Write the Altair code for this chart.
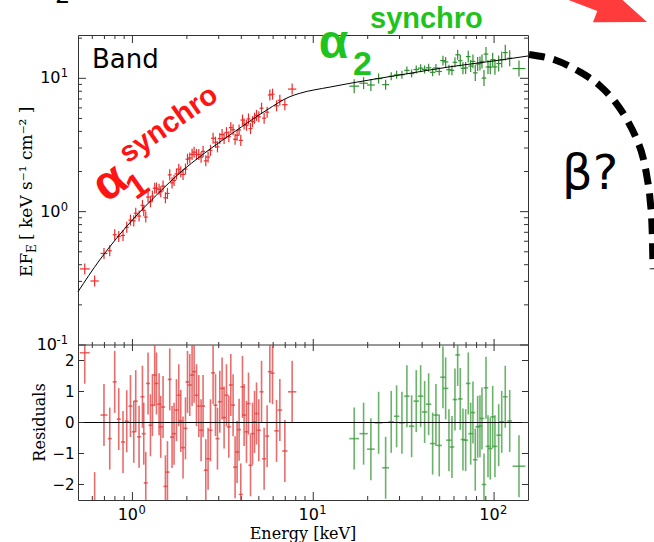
import altair as alt
import pandas as pd

# ---------------- data ----------------
red_E = [0.545, 0.618, 0.696, 0.749, 0.798, 0.840, 0.887, 0.930, 0.975, 1.017,
         1.043, 1.088, 1.136, 1.155, 1.185, 1.220, 1.258, 1.290, 1.328, 1.358,
         1.404, 1.434, 1.477, 1.522, 1.562, 1.608, 1.656, 1.699, 1.752, 1.804,
         1.851, 1.905, 1.965, 2.016, 2.075, 2.137, 2.193, 2.261, 2.328, 2.397,
         2.459, 2.545, 2.620, 2.702, 2.793, 2.880, 2.953, 3.042, 3.132, 3.213,
         3.312, 3.412, 3.499, 3.603, 3.696, 3.791, 3.889, 3.974, 4.061, 4.145,
         4.273, 4.384, 4.498, 4.614, 4.733, 4.856, 5.000, 5.176, 5.349, 5.557,
         5.753, 5.954, 6.266, 6.534, 6.965, 7.642]
red_F = [0.372, 0.302, 0.486, 0.509, 0.671, 0.651, 0.663, 0.763, 0.864, 0.853,
         0.973, 0.927, 1.115, 1.019, 0.911, 1.287, 1.185, 1.307, 1.496, 1.503,
         1.470, 1.410, 1.556, 1.271, 1.369, 1.887, 1.644, 1.714, 1.917, 2.083,
         1.988, 1.900, 2.086, 2.472, 2.527, 2.689, 2.793, 2.685, 2.680, 2.562,
         2.832, 2.404, 2.567, 2.881, 3.550, 3.313, 3.061, 3.532, 3.784, 3.545,
         3.911, 3.650, 4.264, 4.119, 3.490, 3.739, 4.097, 3.424, 4.861, 4.536,
         4.443, 4.955, 4.198, 4.728, 5.023, 5.272, 5.145, 5.969, 5.023, 5.572,
         7.50, 7.60, 6.211, 6.841, 6.341, 8.30]
red_R = [2.25, -2.6, 0.24, -0.52, 1.31, 0.11, -0.63, 0.04, 0.53, -0.30,
         0.69, -0.46, 0.83, -0.36, -1.95, 1.26, -0.09, 0.56, 1.53, 1.26,
         0.59, -0.14, 0.50, -2.06, -1.60, 1.39, -0.47, -0.36, 0.40, 0.88,
         0.05, -0.81, -0.19, 1.31, 1.21, 1.53, 1.64, 0.88, 0.53, -0.25,
         0.53, -1.54, -1.17, -0.25, 1.60, 0.56, -0.52, 0.67, 1.10, 0.16,
         0.88, -0.14, 1.21, 0.56, -1.44, -0.95, -0.23, -2.32, 1.15, 0.24,
         -0.30, 0.61, -1.38, -0.36, 0.02, 0.29, -0.25, 0.99, -1.17, -0.44,
         1.64, 1.59, -0.27, 0.40, -0.92, 0.99]
# energy-bin half width (multiplicative, log axis) and flux error factor
red_xerr = [1.065, 1.055, 1.045, 1.026, 1.026, 1.026, 1.026, 1.026, 1.026, 1.026,
            1.026, 1.026, 1.026, 1.026, 1.026, 1.026, 1.026, 1.026, 1.026, 1.026,
            1.026, 1.026, 1.026, 1.026, 1.026, 1.026, 1.026, 1.026, 1.026, 1.026,
            1.026, 1.026, 1.026, 1.026, 1.026, 1.026, 1.026, 1.026, 1.026, 1.026,
            1.026, 1.026, 1.026, 1.026, 1.026, 1.026, 1.026, 1.026, 1.026, 1.026,
            1.026, 1.026, 1.026, 1.026, 1.026, 1.026, 1.026, 1.026, 1.026, 1.026,
            1.026, 1.026, 1.026, 1.026, 1.026, 1.026, 1.026, 1.026, 1.026, 1.026,
            1.026, 1.026, 1.030, 1.030, 1.035, 1.055]
red_yerr = 1.10

green_E = [16.84, 18.98, 20.83, 22.98, 25.13, 26.98, 28.90, 30.93, 32.95, 34.99,
           37.11, 39.25, 41.30, 43.45, 45.73, 47.69, 49.74, 52.14, 53.96, 56.28,
           58.48, 60.76, 62.88, 65.00, 67.27, 69.63, 71.97, 74.21, 76.41, 78.68,
           81.12, 83.53, 85.70, 87.92, 90.19, 92.52, 95.26, 98.22, 101.1, 106.0,
           110.2, 115.3, 122.0, 137.3]
green_F = [8.73, 9.19, 8.91, 9.95, 8.96, 10.35, 10.62, 10.64, 11.47, 10.85,
           11.64, 11.91, 11.64, 11.99, 11.09, 11.95, 11.25, 13.57, 13.27, 11.60,
           11.47, 13.18, 15.01, 13.55, 11.89, 11.95, 14.54, 12.35, 13.39, 10.98,
           12.80, 12.91, 13.37, 10.04, 15.19, 12.16, 12.12, 13.79, 12.18, 12.91,
           13.81, 15.58, 14.15, 11.83]
green_R = [-0.52, -0.36, -0.86, -0.01, -1.46, 0.02, 0.20, -0.01, 0.85, -0.12,
           0.69, 0.85, 0.34, 0.59, -0.68, 0.24, -0.74, 1.46, 1.10, -0.57,
           -0.79, 0.74, 2.18, 0.76, -0.55, -0.57, 1.26, -0.36, 0.32, -1.20,
           -0.14, -0.12, 0.13, -2.00, 1.12, -0.77, -0.84, 0.18, -0.77, -0.41,
           0.02, 0.83, 0.05, -1.41]
green_xerr = [1.065, 1.055, 1.050, 1.050, 1.045, 1.035, 1.035, 1.035, 1.035, 1.035,
              1.035, 1.035, 1.035, 1.035, 1.035, 1.035, 1.035, 1.035, 1.035, 1.035,
              1.030, 1.030, 1.030, 1.030, 1.030, 1.030, 1.030, 1.030, 1.030, 1.030,
              1.030, 1.030, 1.030, 1.030, 1.030, 1.030, 1.030, 1.030, 1.030, 1.030,
              1.030, 1.030, 1.030, 1.085]
green_yerr = [1.128, 1.109, 1.109, 1.090, 1.090, 1.071, 1.071, 1.071, 1.071, 1.071,
              1.071, 1.071, 1.071, 1.071, 1.071, 1.071, 1.071, 1.090, 1.090, 1.090,
              1.090, 1.090, 1.090, 1.109, 1.109, 1.109, 1.109, 1.109, 1.128, 1.148,
              1.128, 1.128, 1.128, 1.148, 1.128, 1.128, 1.128, 1.128, 1.148, 1.148,
              1.148, 1.148, 1.148, 1.148]

model_E = [0.5, 0.659, 1.0, 1.358, 1.905, 2.357, 3.59, 5.53, 7.42, 8.43, 12.4, 15.96, 30.2, 57.1, 108, 154]
model_F = [0.251, 0.434, 0.867, 1.33, 2.05, 2.58, 3.89, 5.78, 7.28, 7.72, 8.6, 9.17, 10.6, 12.2, 13.7, 14.7]

# dashed "beta?" continuation drawn beyond the plotted energy range
arc_E = [156, 217.5, 298.9, 385.8, 467.0, 543.9, 610.2, 667.1, 702.1, 729.4, 748.2, 757.0]
arc_F = [15.1, 13.72, 11.15, 8.755, 6.643, 4.869, 3.568, 2.527, 1.789, 1.224, 0.73, 0.37]
arrow_E = [213.5]
arrow_F = [49.0]

x_major = [1, 10, 100]
x_exp = ['0', '1', '2']
x_minor = [0.6, 0.7, 0.8, 0.9, 2, 3, 4, 5, 6, 7, 8, 9, 20, 30, 40, 50, 60, 70, 80, 90]
y_major = [0.1, 1, 10]
y_exp = ['-1', '0', '1']
y_minor = [0.2, 0.3, 0.4, 0.5, 0.6, 0.7, 0.8, 0.9, 2, 3, 4, 5, 6, 7, 8, 9, 20]
r_ticks = [-2, -1, 0, 1, 2]


def make_df(E, F, R, xf, yf):
    df = pd.DataFrame({'E': E, 'F': F, 'R': R, 'xf': xf, 'yf': yf})
    df['elo'] = df['E'] / df['xf']
    df['ehi'] = df['E'] * df['xf']
    df['flo'] = df['F'] / df['yf']
    df['fhi'] = df['F'] * df['yf']
    df['rlo'] = df['R'] - 1
    df['rhi'] = df['R'] + 1
    return df


red = make_df(red_E, red_F, red_R, red_xerr, [red_yerr] * len(red_E))
green = make_df(green_E, green_F, green_R, green_xerr, green_yerr)
model = pd.DataFrame({'E': model_E, 'F': model_F})
arc = pd.DataFrame({'E': arc_E, 'F': arc_F})
arrow = pd.DataFrame({'E': arrow_E, 'F': arrow_F})
xlab = pd.DataFrame({'v': x_major, 'e': x_exp})
ylab = pd.DataFrame({'v': y_major, 'e': y_exp})

# ---------------- styling ----------------
W, H, TOP = 450, 465, 310
SANS = 'DejaVu Sans'
SERIF = 'DejaVu Serif'
BOLD = 'Liberation Sans'
FRAME = '#333333'
RED_TOP, GREEN_TOP = '#ee2a2a', '#2f8f2f'
RED_RES, GREEN_RES = '#e03c3c', '#3a9a3a'
RED_TXT, GREEN_TXT = '#ff1414', '#1ec31e'

xs = alt.Scale(type='log', domain=[0.5, 154])
ys = alt.Scale(type='log', domain=[0.1, 21.12], range=[TOP, 0])
rs = alt.Scale(domain=[-2.5, 2.5], range=[H, TOP], clamp=True)

raxis = alt.Axis(title='', orient='left', values=r_ticks, ticks=False, tickSize=0, domain=False,
                 grid=False, format='d',
                 labelFont=SANS, labelFontSize=15, labelColor='black', labelPadding=4)


def X(f):
    return alt.X(f, type='quantitative', scale=xs, axis=None)


def Y(f):
    return alt.Y(f, type='quantitative', scale=ys, axis=None)


def RY(f):
    return alt.Y(f, type='quantitative', scale=rs, axis=raxis)


def crosses(df, color):
    v = alt.Chart(df).mark_rule(color=color, strokeWidth=1.2).encode(
        x=X('E'), y=Y('flo'), y2=alt.Y2('fhi'))
    h = alt.Chart(df).mark_rule(color=color, strokeWidth=1.2).encode(
        x=X('elo'), x2=alt.X2('ehi'), y=Y('F'))
    return [v, h]


def res_bars(df, color):
    v = alt.Chart(df).mark_rule(color=color, strokeWidth=1.6, opacity=0.75).encode(
        x=X('E'), y=RY('rlo'), y2=alt.Y2('rhi'))
    h = alt.Chart(df).transform_filter('datum.R >= -2.5 && datum.R <= 2.5').mark_rule(
        color=color, strokeWidth=1.6, opacity=0.75).encode(
        x=X('elo'), x2=alt.X2('ehi'), y=RY('R'))
    return [v, h]


def xticks(vals, y0, y1):
    return alt.Chart(pd.DataFrame({'v': vals})).mark_rule(color=FRAME, strokeWidth=1).encode(
        x=X('v'), y=alt.value(y0), y2=alt.value(y1))


def yticks(vals, x0, x1, yf):
    return alt.Chart(pd.DataFrame({'v': vals})).mark_rule(color=FRAME, strokeWidth=1).encode(
        y=yf('v'), x=alt.value(x0), x2=alt.value(x1))


def label(txt, x, y, **kw):
    return alt.Chart(pd.DataFrame({'t': [txt]})).mark_text(**kw).encode(
        text='t:N', x=alt.value(x), y=alt.value(y))


top_layers = []
top_layers += crosses(red, RED_TOP)
top_layers += crosses(green, GREEN_TOP)
top_layers.append(alt.Chart(model).mark_line(color='black', strokeWidth=1,
                                             interpolate='monotone').encode(x=X('E'), y=Y('F')))
top_layers.append(alt.Chart(arc).mark_line(color='black', strokeWidth=7, strokeDash=[16, 9],
                                           strokeCap='butt', interpolate='monotone').encode(
    x=X('E'), y=Y('F')))
top_layers.append(alt.Chart(arrow).mark_point(
    shape='M -1 -0.075 L 0.496 -0.075 L 0.496 -0.194 L 1 0 L 0.496 0.194 L 0.496 0.075 L -1 0.075 Z',
    filled=True, size=40000, angle=21, color='#ff3b3b', opacity=1, strokeWidth=0).encode(
    x=X('E'), y=Y('F')))
# separator between the panels
top_layers.append(alt.Chart(pd.DataFrame({'v': [0.1]})).mark_rule(color=FRAME, strokeWidth=1).encode(
    y=Y('v')))
# inward ticks (x)
top_layers += [xticks(x_major, 0, 8), xticks(x_minor, 0, 4),
               xticks(x_major, TOP - 6, TOP + 6), xticks(x_minor, TOP - 3, TOP + 3),
               xticks(x_major, H - 8, H), xticks(x_minor, H - 4, H)]
# inward ticks (y, top panel)
top_layers += [yticks(y_major, 0, 8, Y), yticks(y_minor, 0, 4, Y),
               yticks(y_major, W - 8, W, Y), yticks(y_minor, W - 4, W, Y)]
# tick labels: 10 with a raised exponent
top_layers += [
    alt.Chart(xlab).mark_text(font=SANS, fontSize=16, align='right', baseline='top', dx=5.6,
                              color='black').encode(x=X('v'), y=alt.value(472), text=alt.value('10')),
    alt.Chart(xlab).mark_text(font=SANS, fontSize=11.5, align='left', baseline='top', dx=6,
                              color='black').encode(x=X('v'), y=alt.value(470), text='e:N'),
    alt.Chart(ylab).mark_text(font=SANS, fontSize=11.5, align='right', baseline='middle', dy=-4,
                              color='black').encode(y=Y('v'), x=alt.value(-10), text='e:N'),
    alt.Chart(ylab).transform_filter('length(datum.e) == 1').mark_text(
        font=SANS, fontSize=16, align='right', baseline='middle', color='black').encode(
        y=Y('v'), x=alt.value(-17.5), text=alt.value('10')),
    alt.Chart(ylab).transform_filter('length(datum.e) > 1').mark_text(
        font=SANS, fontSize=16, align='right', baseline='middle', color='black').encode(
        y=Y('v'), x=alt.value(-21), text=alt.value('10')),
]
# texts
top_layers += [
    label('Band', 14, 33, font=SANS, fontSize=26, align='left', baseline='alphabetic', color='black'),
    label('α', 255.5, 23.3, font=BOLD, fontWeight='bold', fontSize=48, align='center',
          baseline='alphabetic', color=GREEN_TXT),
    label('2', 284.5, 40, font=BOLD, fontWeight='bold', fontSize=34, align='center',
          baseline='alphabetic', color=GREEN_TXT),
    label('synchro', 292, -7, font=BOLD, fontWeight='bold', fontSize=29, align='left',
          baseline='alphabetic', color=GREEN_TXT),
    label('α', 32, 148, font=BOLD, fontWeight='bold', fontSize=48, align='center',
          baseline='middle', angle=325, color=RED_TXT),
    label('1', 60, 152, font=BOLD, fontWeight='bold', fontSize=34, align='center',
          baseline='middle', angle=325, color=RED_TXT),
    label('synchro', 90.5, 89, font=BOLD, fontWeight='bold', fontSize=29, align='center',
          baseline='middle', angle=325, color=RED_TXT),
    label('β?', 484, 154, font=SANS, fontSize=48, align='left', baseline='alphabetic', color='black'),
    label('2', -23, -32.5, font=SANS, fontSize=24, align='left', baseline='alphabetic', color='black'),
    # axis titles
    label('EF', -46, 242, font=SERIF, fontSize=17, align='left', baseline='alphabetic',
          angle=270, color='black'),
    label('E', -42, 218, font=SERIF, fontSize=12, align='left', baseline='alphabetic',
          angle=270, color='black'),
    label('[ keV s⁻¹ cm⁻² ]', -46, 205, font=SERIF, fontSize=17, align='left',
          baseline='alphabetic', angle=270, color='black'),
    label('Residuals', -33, 387.5, font=SERIF, fontSize=16, align='center', baseline='alphabetic',
          angle=270, color='black'),
    label('Energy [keV]', 225, 504, font=SERIF, fontSize=16, align='center',
          baseline='alphabetic', color='black'),
]
top = alt.layer(*top_layers)

res_layers = []
res_layers += res_bars(red, RED_RES)
res_layers += res_bars(green, GREEN_RES)
res_layers.append(alt.Chart(pd.DataFrame({'v': [0]})).mark_rule(color='black', strokeWidth=1.2).encode(
    y=RY('v')))
res_layers += [yticks(r_ticks, 0, 6, RY), yticks(r_ticks, W - 6, W, RY)]
res = alt.layer(*res_layers)

chart = alt.layer(top, res).resolve_scale(y='independent').properties(
    width=W, height=H,
    padding={'left': 78, 'top': 35, 'right': 126, 'bottom': 42},
    autosize=alt.AutoSizeParams(type='none'),
    background='white',
).configure_view(stroke=FRAME, strokeWidth=1)

chart.save('out.html', embed_options={'renderer': 'svg', 'actions': False})
